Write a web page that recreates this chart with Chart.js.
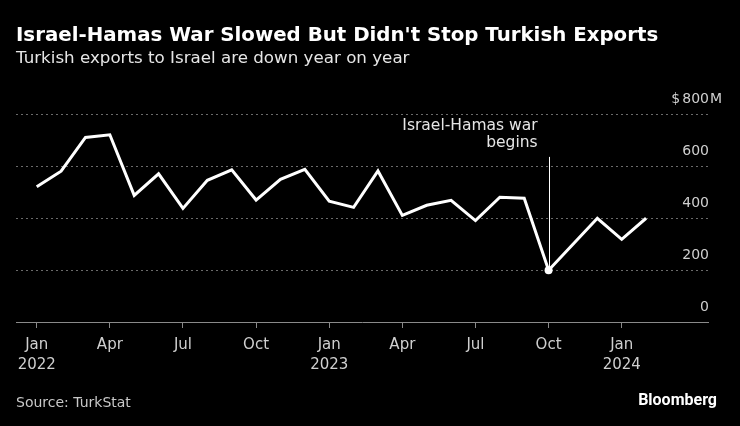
<!DOCTYPE html>
<html>
<head>
<meta charset="utf-8">
<script src="https://cdn.jsdelivr.net/npm/chart.js@4.4.1/dist/chart.umd.min.js"></script>
<style>
  html, body { margin: 0; padding: 0; background: #000; }
  #wrap { position: relative; width: 740px; height: 426px; overflow: hidden; font-family: "DejaVu Sans", sans-serif; }
  #chart { position: absolute; left: 0; top: 0; }
  .txt { position: absolute; white-space: nowrap; }
  #title { left: 16px; top: 23px; font-size: 19.8px; line-height: 24px; font-weight: bold; color: #fff; }
  #subtitle { left: 16px; top: 47px; font-size: 16.7px; line-height: 20px; color: #e6e6e6; }
  #source { left: 16px; top: 394px; font-size: 14px; line-height: 16px; color: #c8c8c8; }
  #brand { right: 23px; top: 391px; font-family: Roboto, sans-serif; font-size: 16px; line-height: 18px; font-weight: bold; color: #fff; }
</style>
</head>
<body>
<div id="wrap">
  <canvas id="chart" width="740" height="426"></canvas>
  <div class="txt" id="title">Israel-Hamas War Slowed But Didn't Stop Turkish Exports</div>
  <div class="txt" id="subtitle">Turkish exports to Israel are down year on year</div>
  <div class="txt" id="source">Source: TurkStat</div>
  <div class="txt" id="brand">Bloomberg</div>
</div>
<script>
// monthly, Jan 2022 .. Feb 2024
const months = ['2022-01','2022-02','2022-03','2022-04','2022-05','2022-06','2022-07','2022-08','2022-09','2022-10','2022-11','2022-12',
                '2023-01','2023-02','2023-03','2023-04','2023-05','2023-06','2023-07','2023-08','2023-09','2023-10','2023-11','2023-12',
                '2024-01','2024-02'];
const exportsUsdM = [520, 580, 710, 720, 487, 570, 437, 545, 585, 469, 549, 587,
                     465, 441, 581, 410, 449, 468, 390, 480, 476, 199, 299, 399,
                     318, 399];
const xTicks = [0, 3, 6, 9, 12, 15, 18, 21, 24];
const xTickLabels = [['Jan', '2022'], 'Apr', 'Jul', 'Oct', ['Jan', '2023'], 'Apr', 'Jul', 'Oct', ['Jan', '2024']];
const yTicks = [0, 200, 400, 600, 800];
const yTickLabels = ['0', '200', '400', '600', '800'];
const warIndex = 21;
const warNote = ['Israel-Hamas war', 'begins'];

const FONT = '"DejaVu Sans", sans-serif';

// y labels sit above their gridlines, top one gets $ and M
const yLabels = {
    id: 'yLabels',
    afterDraw(chart) {
        const { ctx, chartArea, scales: { y } } = chart;
        ctx.save();
        ctx.font = '14px ' + FONT;
        ctx.fillStyle = '#cfcfcf';
        ctx.textBaseline = 'middle';
        yTicks.forEach((v, i) => {
            const py = y.getPixelForValue(v) - 15;
            const rx = chartArea.right + 1;
            ctx.textAlign = 'right';
            ctx.fillText(yTickLabels[i], rx, py);
            if (i === yTicks.length - 1) {
                const w = ctx.measureText(yTickLabels[i]).width;
                ctx.fillText('$', rx - w - 2, py);
                ctx.textAlign = 'left';
                ctx.fillText('M', rx + 1, py);
            }
        });
        ctx.restore();
    }
};

// vertical marker + note for war start
const warMarker = {
    id: 'warMarker',
    beforeDatasetsDraw(chart) {
        const { ctx, scales: { x, y } } = chart;
        const px = x.getPixelForValue(warIndex);
        const top = y.getPixelForValue(635);
        const bottom = y.getPixelForValue(exportsUsdM[warIndex]);
        ctx.save();
        ctx.strokeStyle = '#ffffff';
        ctx.lineWidth = 1;
        ctx.beginPath();
        ctx.moveTo(Math.round(px) + 0.5, top);
        ctx.lineTo(Math.round(px) + 0.5, bottom);
        ctx.stroke();
        ctx.font = '15.5px ' + FONT;
        ctx.fillStyle = '#e6e6e6';
        ctx.textAlign = 'right';
        ctx.textBaseline = 'middle';
        ctx.fillText(warNote[0], px - 11, top - 31);
        ctx.fillText(warNote[1], px - 11, top - 14);
        ctx.restore();
    }
};

new Chart(document.getElementById('chart'), {
    type: 'line',
    data: {
        datasets: [{
            data: exportsUsdM.map((v, i) => ({ x: i, y: v })),
            borderColor: '#ffffff',
            borderWidth: 3,
            tension: 0,
            pointRadius: ctx => ctx.dataIndex === warIndex ? 4 : 0,
            pointBackgroundColor: '#ffffff',
            pointBorderWidth: 0,
            fill: false
        }]
    },
    options: {
        responsive: false,
        devicePixelRatio: 1,
        animation: false,
        layout: { padding: { left: 16, right: 32, top: 114, bottom: 44 } },
        plugins: { legend: { display: false }, tooltip: { enabled: false } },
        scales: {
            x: {
                type: 'linear',
                min: -0.85,
                max: 27.54,
                afterBuildTicks: s => { s.ticks = xTicks.map(v => ({ value: v })); },
                afterFit: s => { s.height = 60; },
                grid: { drawOnChartArea: false, drawTicks: true, tickLength: 6, color: '#8a8a8a', lineWidth: 1 },
                border: { display: true, color: '#8a8a8a', width: 1 },
                ticks: {
                    autoSkip: false,
                    maxRotation: 0,
                    padding: 7,
                    color: '#cfcfcf',
                    font: { family: FONT, size: 15, lineHeight: 1.333 },
                    callback: (v) => { const i = xTicks.indexOf(v); return i < 0 ? '' : xTickLabels[i]; }
                }
            },
            y: {
                position: 'right',
                min: 0,
                max: 800,
                afterBuildTicks: s => { s.ticks = yTicks.map(v => ({ value: v })); },
                afterFit: s => { s.width = 0; },
                grid: {
                    drawTicks: false,
                    color: c => c.tick && c.tick.value === 0 ? 'rgba(0,0,0,0)' : '#6a6a6a',
                    lineWidth: 1
                },
                border: { display: false, dash: [2, 3] },
                ticks: { display: false }
            }
        }
    },
    plugins: [yLabels, warMarker]
});
</script>
</body>
</html>
